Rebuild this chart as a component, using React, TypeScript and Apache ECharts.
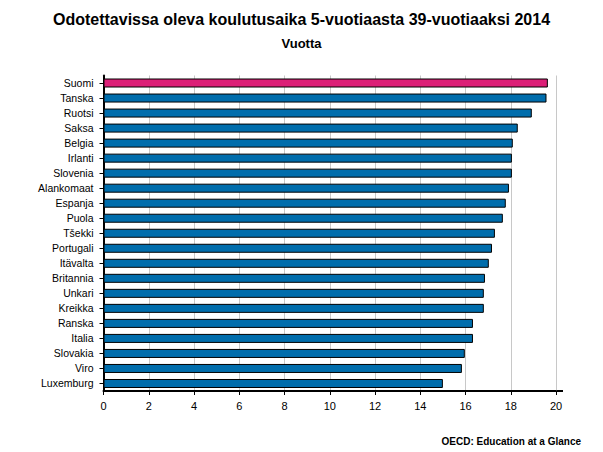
import React, { useEffect, useRef } from "react";
import * as echarts from "echarts";

const countries = [
  "Suomi", "Tanska", "Ruotsi", "Saksa", "Belgia", "Irlanti", "Slovenia",
  "Alankomaat", "Espanja", "Puola", "Tšekki", "Portugali", "Itävalta",
  "Britannia", "Unkari", "Kreikka", "Ranska", "Italia", "Slovakia", "Viro", "Luxemburg",
];
const years = [
  19.64, 19.58, 18.93, 18.31, 18.09, 18.05, 18.05,
  17.92, 17.78, 17.65, 17.3, 17.17, 17.03,
  16.86, 16.81, 16.81, 16.33, 16.33, 15.97, 15.84, 15.0,
];
const highlight = "Suomi";
const titleText = "Odotettavissa oleva koulutusaika 5-vuotiaasta 39-vuotiaaksi 2014";
const subtitleText = "Vuotta";
const sourceText = "OECD: Education at a Glance";

const FONT = "'Liberation Sans', Arial, sans-serif";

export default function App() {
  const ref = useRef<HTMLDivElement>(null);
  useEffect(() => {
    if (!ref.current) return;
    const chart = echarts.init(ref.current, null, { renderer: "svg" });
    chart.setOption({
      animation: false,
      backgroundColor: "#ffffff",
      textStyle: { fontFamily: FONT },
      title: [
        {
          text: titleText,
          left: "center",
          top: 6,
          textStyle: { fontSize: 16, fontWeight: "bold", color: "#000", fontFamily: FONT },
        },
        {
          text: subtitleText,
          left: "center",
          top: 32,
          textStyle: { fontSize: 13, fontWeight: "bold", color: "#000", fontFamily: FONT },
        },
        {
          text: sourceText,
          right: 17,
          top: 431,
          textStyle: { fontSize: 10, fontWeight: "bold", color: "#000", fontFamily: FONT },
        },
      ],
      grid: { left: 103.5, right: 47, top: 75.5, bottom: 61, containLabel: false },
      xAxis: {
        type: "value",
        min: 0,
        max: 20,
        interval: 2,
        axisLine: { show: true, lineStyle: { color: "#000", width: 2 } },
        axisTick: { show: true, length: 4, lineStyle: { color: "#000", width: 1 } },
        axisLabel: { color: "#000", fontSize: 11, margin: 9, fontFamily: FONT },
        splitLine: { show: true, lineStyle: { color: "#c8c8c8", width: 1 } },
      },
      yAxis: {
        type: "category",
        data: countries,
        inverse: true,
        axisLine: { show: true, lineStyle: { color: "#000", width: 2 } },
        axisTick: { show: true, length: 4, alignWithLabel: true, lineStyle: { color: "#000", width: 1 } },
        axisLabel: { color: "#000", fontSize: 10.5, margin: 10, fontFamily: FONT },
        splitLine: { show: false },
      },
      series: [
        {
          type: "bar",
          data: countries.map((c, i) => ({
            value: years[i],
            itemStyle: { color: c === highlight ? "#dc1f77" : "#006dac" },
          })),
          barWidth: 9,
          itemStyle: { borderColor: "#000", borderWidth: 1 },
        },
      ],
      graphic: [
        {
          type: "line",
          shape: { x1: 556, y1: 391, x2: 563, y2: 391 },
          style: { stroke: "#000", lineWidth: 2 },
        },
      ],
    });
    return () => chart.dispose();
  }, []);
  return (
    <div
      ref={ref}
      style={{ position: "fixed", left: 0, top: 0, width: 603, height: 452 }}
    />
  );
}
